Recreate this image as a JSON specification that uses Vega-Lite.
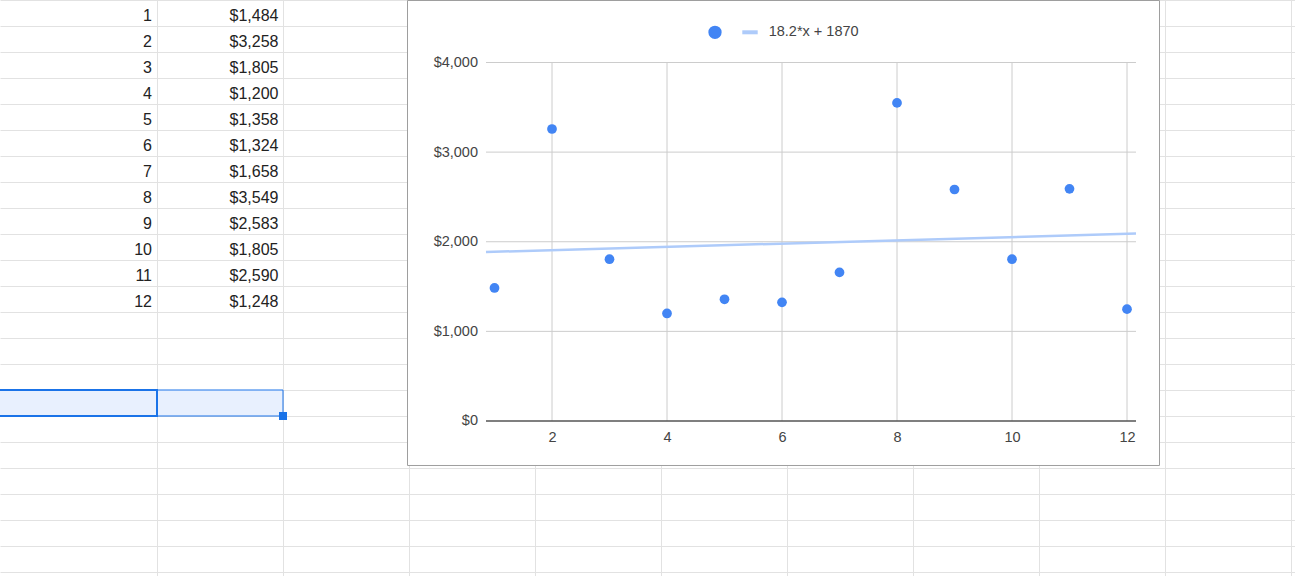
{
  "$schema": "https://vega.github.io/schema/vega-lite/v6.json",
  "width": 1295,
  "height": 576,
  "padding": 0,
  "autosize": {"type": "none"},
  "background": "white",
  "config": {"view": {"stroke": null}, "font": "Liberation Sans"},
  "datasets": {
    "sales": [
      {"n": 1, "sales": 1484},
      {"n": 2, "sales": 3258},
      {"n": 3, "sales": 1805},
      {"n": 4, "sales": 1200},
      {"n": 5, "sales": 1358},
      {"n": 6, "sales": 1324},
      {"n": 7, "sales": 1658},
      {"n": 8, "sales": 3549},
      {"n": 9, "sales": 2583},
      {"n": 10, "sales": 1805},
      {"n": 11, "sales": 2590},
      {"n": 12, "sales": 1248}
    ],
    "ygrid": [{"v": 1000}, {"v": 2000}, {"v": 3000}, {"v": 4000}]
  },
  "layer": [
    {
      "data": {"values": [{"range": "A16:B16"}]},
      "mark": {"type": "rect", "fill": "#e8f0fe", "stroke": "#1a73e8", "strokeWidth": 1},
      "encoding": {
        "x": {"datum": -0.4, "type": "quantitative", "scale": {"domain": [-0.246032, 10.031746], "nice": false, "zero": false}, "axis": null},
        "x2": {"datum": 2},
        "y": {"datum": 15.5, "type": "quantitative", "scale": {"domain": [0.5, 22.653846], "reverse": true, "nice": false, "zero": false}, "axis": null},
        "y2": {"datum": 16.5}
      }
    },
    {
      "data": {"values": [{"cell": "A16"}]},
      "mark": {"type": "rect", "fillOpacity": 0, "stroke": "#1a73e8", "strokeWidth": 2},
      "encoding": {
        "x": {"datum": -0.4, "type": "quantitative", "scale": {"domain": [-0.246032, 10.031746], "nice": false, "zero": false}, "axis": null},
        "x2": {"datum": 1},
        "y": {"datum": 15.5, "type": "quantitative", "scale": {"domain": [0.5, 22.653846], "reverse": true, "nice": false, "zero": false}, "axis": null},
        "y2": {"datum": 16.5}
      }
    },
    {
      "data": {"values": [{"handle": "B16"}]},
      "mark": {"type": "point", "shape": "square", "filled": true, "size": 64, "color": "#1a73e8", "opacity": 1},
      "encoding": {
        "x": {"datum": 2, "type": "quantitative", "scale": {"domain": [-0.246032, 10.031746], "nice": false, "zero": false}, "axis": null},
        "y": {"datum": 16.5, "type": "quantitative", "scale": {"domain": [0.5, 22.653846], "reverse": true, "nice": false, "zero": false}, "axis": null}
      }
    },
    {
      "data": {"name": "sales"},
      "mark": {"type": "text", "align": "right", "baseline": "alphabetic", "dx": -5, "dy": 7.5, "fontSize": 16, "font": "Liberation Sans", "color": "#222222"},
      "encoding": {
        "x": {"datum": 1, "type": "quantitative", "scale": {"domain": [-0.246032, 10.031746], "nice": false, "zero": false},
          "axis": {"orient": "top", "values": [1, 2, 3, 4, 5, 6, 7, 8, 9, 10], "labels": false, "ticks": false, "domain": false, "grid": true, "gridColor": "#e2e2e2", "gridWidth": 1, "title": null, "zindex": 0}},
        "y": {"field": "n", "type": "quantitative", "scale": {"domain": [0.5, 22.653846], "reverse": true, "nice": false, "zero": false},
          "axis": {"orient": "right", "values": [0.5, 1.5, 2.5, 3.5, 4.5, 5.5, 6.5, 7.5, 8.5, 9.5, 10.5, 11.5, 12.5, 13.5, 14.5, 15.5, 16.5, 17.5, 18.5, 19.5, 20.5, 21.5, 22.5], "labels": false, "ticks": false, "domain": false, "grid": true, "gridColor": "#e2e2e2", "gridWidth": 1, "title": null, "zindex": 0}},
        "text": {"field": "n", "type": "quantitative"}
      }
    },
    {
      "data": {"name": "sales"},
      "mark": {"type": "text", "align": "right", "baseline": "alphabetic", "dx": -4.5, "dy": 7.5, "fontSize": 16, "font": "Liberation Sans", "color": "#222222"},
      "encoding": {
        "x": {"datum": 2, "type": "quantitative", "scale": {"domain": [-0.246032, 10.031746], "nice": false, "zero": false}, "axis": null},
        "y": {"field": "n", "type": "quantitative", "scale": {"domain": [0.5, 22.653846], "reverse": true, "nice": false, "zero": false}, "axis": null},
        "text": {"field": "sales", "type": "quantitative", "format": "$,.0f"}
      }
    },
    {
      "data": {"values": [{"chart": "frame"}]},
      "mark": {"type": "rect", "fill": "white", "stroke": "#9e9e9e", "strokeWidth": 1},
      "encoding": {
        "x": {"datum": -0.51304, "type": "quantitative", "scale": {"domain": [-7.6, 14.921739], "nice": false, "zero": false}, "axis": null},
        "x2": {"datum": 12.56522},
        "y": {"datum": -496.51, "type": "quantitative", "scale": {"domain": [-1729.43, 4697.35], "nice": false, "zero": false}, "axis": null},
        "y2": {"datum": 4691.77}
      }
    },
    {
      "data": {"name": "ygrid"},
      "mark": {"type": "rule", "color": "#cccccc", "strokeWidth": 1},
      "encoding": {
        "x": {"datum": 0.85217, "type": "quantitative", "scale": {"domain": [-7.6, 14.921739], "nice": false, "zero": false}, "axis": null},
        "x2": {"datum": 12.15652},
        "y": {"field": "v", "type": "quantitative", "scale": {"domain": [-1729.43, 4697.35], "nice": false, "zero": false}, "axis": null}
      }
    },
    {
      "data": {"name": "sales"},
      "transform": [{"filter": "datum.n % 2 === 0"}],
      "mark": {"type": "rule", "color": "#cccccc", "strokeWidth": 1},
      "encoding": {
        "x": {"field": "n", "type": "quantitative", "scale": {"domain": [-7.6, 14.921739], "nice": false, "zero": false}, "axis": null},
        "y": {"datum": 0, "type": "quantitative", "scale": {"domain": [-1729.43, 4697.35], "nice": false, "zero": false}, "axis": null},
        "y2": {"datum": 4000}
      }
    },
    {
      "data": {"values": [{"line": "baseline"}]},
      "mark": {"type": "rule", "color": "#555555", "strokeWidth": 1.3},
      "encoding": {
        "x": {"datum": 0.85217, "type": "quantitative", "scale": {"domain": [-7.6, 14.921739], "nice": false, "zero": false}, "axis": null},
        "x2": {"datum": 12.15652},
        "y": {"datum": 0, "type": "quantitative", "scale": {"domain": [-1729.43, 4697.35], "nice": false, "zero": false}, "axis": null}
      }
    },
    {
      "data": {"name": "sales"},
      "transform": [{"regression": "sales", "on": "n", "extent": [0.85217, 12.15652]}],
      "mark": {"type": "line", "color": "#aecbfa", "strokeWidth": 2.5},
      "encoding": {
        "x": {"field": "n", "type": "quantitative", "scale": {"domain": [-7.6, 14.921739], "nice": false, "zero": false}, "axis": null},
        "y": {"field": "sales", "type": "quantitative", "scale": {"domain": [-1729.43, 4697.35], "nice": false, "zero": false}, "axis": null}
      }
    },
    {
      "data": {"name": "sales"},
      "mark": {"type": "circle", "size": 95, "color": "#4285f4", "opacity": 1},
      "encoding": {
        "x": {"field": "n", "type": "quantitative", "scale": {"domain": [-7.6, 14.921739], "nice": false, "zero": false},
          "axis": {"orient": "bottom", "offset": -155, "values": [2, 4, 6, 8, 10, 12], "domain": false, "ticks": false, "tickSize": 0, "grid": false, "labelPadding": 9.5, "labelFontSize": 14.5, "labelFont": "Liberation Sans", "labelColor": "#444444", "labelFlush": false, "labelOverlap": false, "title": null, "zindex": 1}},
        "y": {"field": "sales", "type": "quantitative", "scale": {"domain": [-1729.43, 4697.35], "nice": false, "zero": false},
          "axis": {"orient": "left", "offset": -486, "values": [0, 1000, 2000, 3000, 4000], "format": "$,.0f", "domain": false, "ticks": false, "tickSize": 0, "grid": false, "labelPadding": 8.5, "labelFontSize": 14.5, "labelFont": "Liberation Sans", "labelColor": "#444444", "labelFlush": false, "labelOverlap": false, "title": null, "zindex": 1}}
      }
    },
    {
      "data": {"values": [{"legend": "points"}]},
      "mark": {"type": "circle", "size": 177, "color": "#4285f4", "opacity": 1},
      "encoding": {
        "x": {"datum": 4.83478, "type": "quantitative", "scale": {"domain": [-7.6, 14.921739], "nice": false, "zero": false}, "axis": null},
        "y": {"datum": 4336.96, "type": "quantitative", "scale": {"domain": [-1729.43, 4697.35], "nice": false, "zero": false}, "axis": null}
      }
    },
    {
      "data": {"values": [{"legend": "trend"}]},
      "mark": {"type": "rule", "color": "#aecbfa", "strokeWidth": 4},
      "encoding": {
        "x": {"datum": 5.30957, "type": "quantitative", "scale": {"domain": [-7.6, 14.921739], "nice": false, "zero": false}, "axis": null},
        "x2": {"datum": 5.57739},
        "y": {"datum": 4336.96, "type": "quantitative", "scale": {"domain": [-1729.43, 4697.35], "nice": false, "zero": false}, "axis": null}
      }
    },
    {
      "data": {"values": [{"legend": "18.2*x + 1870"}]},
      "mark": {"type": "text", "align": "left", "baseline": "alphabetic", "fontSize": 14.5, "font": "Liberation Sans", "color": "#444444"},
      "encoding": {
        "x": {"datum": 5.7687, "type": "quantitative", "scale": {"domain": [-7.6, 14.921739], "nice": false, "zero": false}, "axis": null},
        "y": {"datum": 4295.68, "type": "quantitative", "scale": {"domain": [-1729.43, 4697.35], "nice": false, "zero": false}, "axis": null},
        "text": {"field": "legend"}
      }
    }
  ],
  "resolve": {
    "scale": {"x": "independent", "y": "independent"},
    "axis": {"x": "independent", "y": "independent"}
  }
}
